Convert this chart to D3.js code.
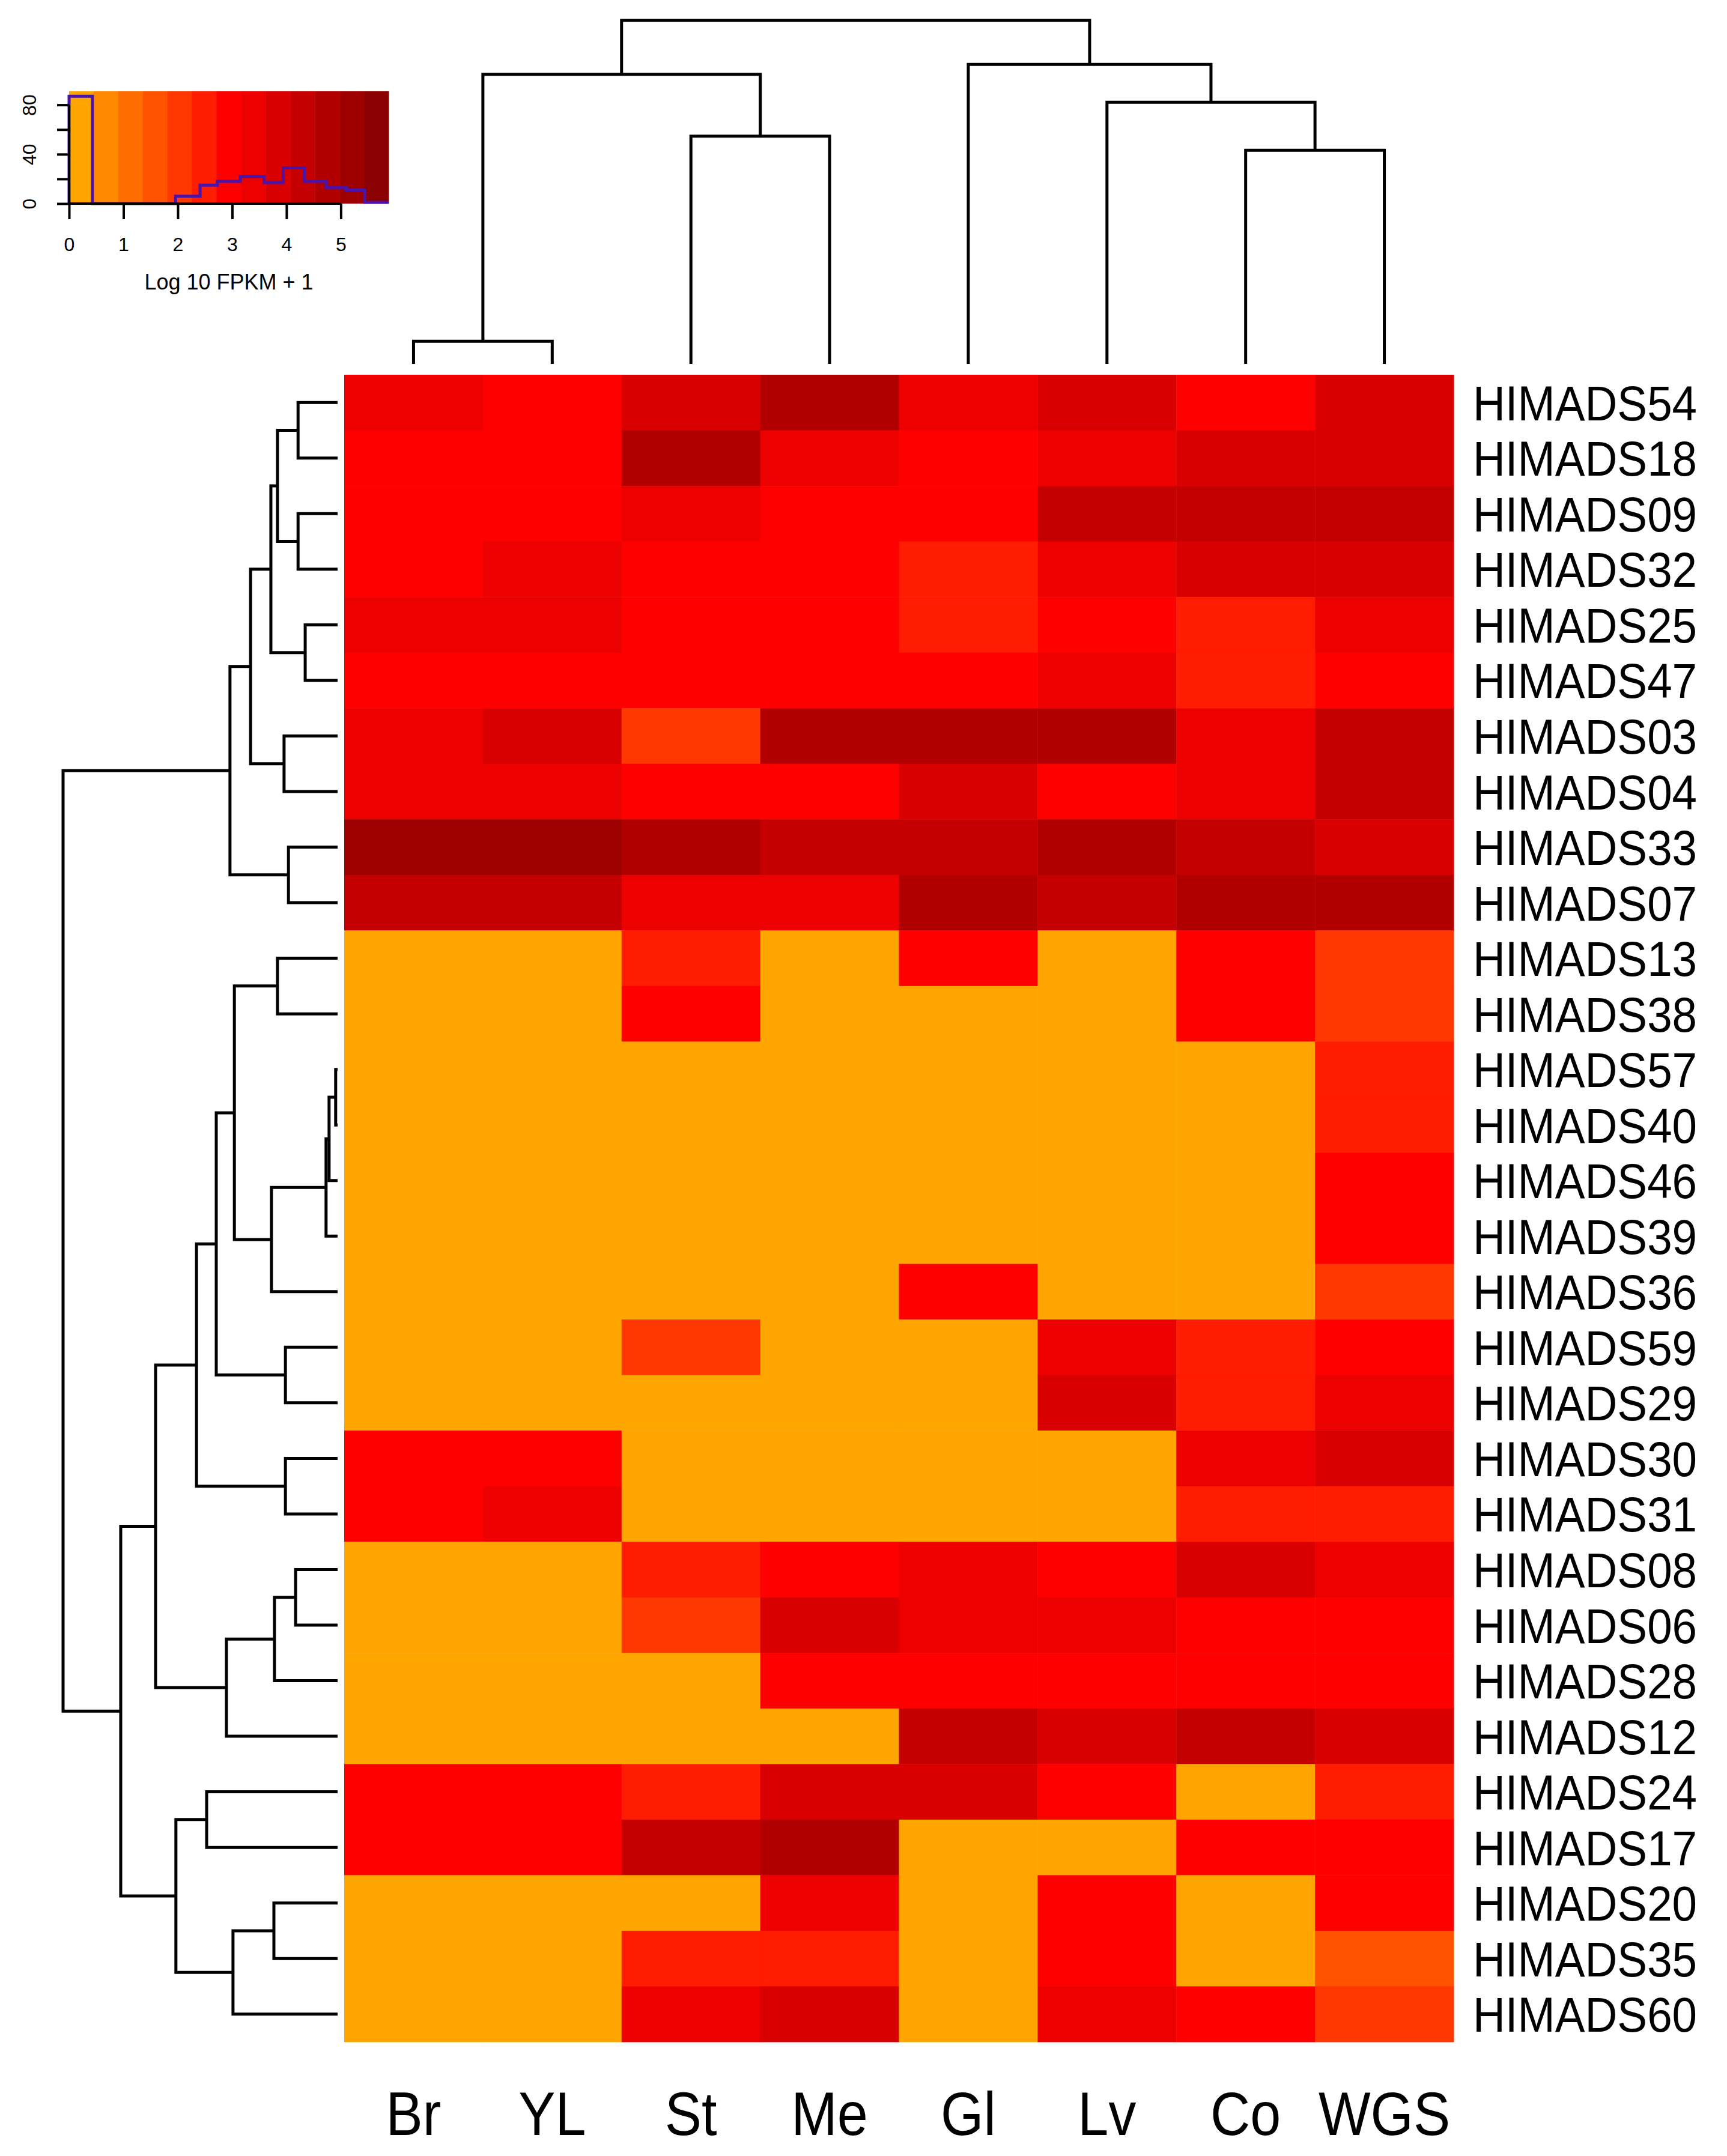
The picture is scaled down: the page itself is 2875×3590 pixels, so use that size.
<!DOCTYPE html>
<html>
<head>
<meta charset="utf-8">
<script src="https://cdn.jsdelivr.net/npm/d3@7"></script>
<style>
  body { margin: 0; background: #fff; }
  text { font-family: "Liberation Sans", Arial, sans-serif; fill: #000; }
</style>
</head>
<body>
<svg id="chart" width="2875" height="3590"></svg>
<script>
// samples (columns) and genes (rows), in dendrogram order
const samples = ["Br", "YL", "St", "Me", "Gl", "Lv", "Co", "WGS"];
const genes = ["HIMADS54", "HIMADS18", "HIMADS09", "HIMADS32", "HIMADS25", "HIMADS47",
    "HIMADS03", "HIMADS04", "HIMADS33", "HIMADS07", "HIMADS13", "HIMADS38", "HIMADS57",
    "HIMADS40", "HIMADS46", "HIMADS39", "HIMADS36", "HIMADS59", "HIMADS29", "HIMADS30",
    "HIMADS31", "HIMADS08", "HIMADS06", "HIMADS28", "HIMADS12", "HIMADS24", "HIMADS17",
    "HIMADS20", "HIMADS35", "HIMADS60"];

// log10 FPKM + 1, one row per gene, columns as in samples
const expression = [
    [3.5, 3.0, 3.9, 4.85, 3.5, 3.85, 3.0, 3.9],
    [3.0, 3.0, 4.85, 3.45, 3.0, 3.3, 3.85, 3.85],
    [3.0, 3.0, 3.45, 3.0, 3.0, 4.35, 4.35, 4.35],
    [3.0, 3.45, 3.0, 3.0, 2.65, 3.45, 3.85, 3.85],
    [3.45, 3.45, 3.0, 3.0, 2.65, 3.0, 2.65, 3.45],
    [3.0, 3.0, 3.0, 3.0, 2.95, 3.45, 2.65, 2.85],
    [3.45, 3.85, 2.05, 4.85, 4.85, 4.85, 3.45, 4.35],
    [3.45, 3.45, 3.0, 3.0, 3.9, 3.0, 3.45, 4.35],
    [5.35, 5.35, 4.85, 4.35, 4.35, 4.85, 4.35, 3.9],
    [4.45, 4.45, 3.45, 3.45, 4.85, 4.35, 4.85, 4.85],
    [0, 0, 2.65, 0, 3.0, 0, 3.0, 2.05],
    [0, 0, 3.0, 0, 0, 0, 3.0, 2.05],
    [0, 0, 0, 0, 0, 0, 0, 2.65],
    [0, 0, 0, 0, 0, 0, 0, 2.65],
    [0, 0, 0, 0, 0, 0, 0, 3.0],
    [0, 0, 0, 0, 0, 0, 0, 3.0],
    [0, 0, 0, 0, 3.0, 0, 0, 2.05],
    [0, 0, 2.05, 0, 0, 3.2, 2.65, 3.0],
    [0, 0, 0, 0, 0, 3.9, 2.65, 3.45],
    [3.0, 3.0, 0, 0, 0, 0, 3.45, 3.9],
    [3.0, 3.45, 0, 0, 0, 0, 2.65, 2.65],
    [0, 0, 2.65, 3.0, 3.45, 3.0, 3.9, 3.45],
    [0, 0, 2.05, 3.9, 3.45, 3.45, 3.0, 3.0],
    [0, 0, 0, 3.0, 3.0, 3.0, 3.0, 3.0],
    [0, 0, 0, 0, 4.35, 3.9, 4.35, 3.9],
    [3.0, 3.0, 2.65, 3.9, 3.8, 3.0, 0, 2.65],
    [3.0, 3.0, 4.35, 4.85, 0, 0, 3.0, 3.0],
    [0, 0, 0, 3.45, 0, 3.0, 0, 3.0],
    [0, 0, 2.65, 2.65, 0, 3.0, 0, 1.75],
    [0, 0, 3.45, 3.9, 0, 3.45, 3.0, 2.05]
];

// cluster trees: h = merge height, c = children (leaf = name)
const colTree = {h: 10, c: [
    {h: 8.43, c: [{h: 0.66, c: ["Br", "YL"]}, {h: 6.63, c: ["St", "Me"]}]},
    {h: 8.72, c: ["Gl", {h: 7.62, c: ["Lv", {h: 6.22, c: ["Co", "WGS"]}]}]}
]};

const rowTree = {h: 10, c: [
    {h: 3.92, c: [
        {h: 3.17, c: [
            {h: 2.43, c: [
                {h: 2.19, c: [{h: 1.44, c: ["HIMADS54", "HIMADS18"]}, {h: 1.44, c: ["HIMADS09", "HIMADS32"]}]},
                {h: 1.18, c: ["HIMADS25", "HIMADS47"]}]},
            {h: 1.95, c: ["HIMADS03", "HIMADS04"]}]},
        {h: 1.79, c: ["HIMADS33", "HIMADS07"]}]},
    {h: 7.90, c: [
        {h: 6.63, c: [
            {h: 5.14, c: [
                {h: 4.42, c: [
                    {h: 3.76, c: [
                        {h: 2.19, c: ["HIMADS13", "HIMADS38"]},
                        {h: 2.41, c: [
                            {h: 0.42, c: [{h: 0.31, c: [{h: 0.07, c: ["HIMADS57", "HIMADS40"]}, "HIMADS46"]}, "HIMADS39"]},
                            "HIMADS36"]}]},
                    {h: 1.90, c: ["HIMADS59", "HIMADS29"]}]},
                {h: 1.90, c: ["HIMADS30", "HIMADS31"]}]},
            {h: 4.05, c: [{h: 2.30, c: [{h: 1.53, c: ["HIMADS08", "HIMADS06"]}, "HIMADS28"]}, "HIMADS12"]}]},
        {h: 5.89, c: [
            {h: 4.77, c: ["HIMADS24", "HIMADS17"]},
            {h: 3.81, c: [{h: 2.32, c: ["HIMADS20", "HIMADS35"]}, "HIMADS60"]}]}]}
]};

// colour key
const paletteStops = ["orange", "red", "darkred"];
const nColours = 13;
const valueMax = 5.88;
const keyTicks = [0, 1, 2, 3, 4, 5];
const countTicks = [0, 20, 40, 60, 80];
const countLabels = [0, 40, 80];
const histBreaks = [0, 0.43, 1.96, 2.41, 2.73, 3.15, 3.59, 3.94, 4.33, 4.73, 5.10, 5.44, 5.88];
const histCounts = [87, 0, 6, 15, 18, 22, 17, 29, 18, 13, 11, 1];

const svg = d3.select("#chart");

const palette = d3.quantize(d3.piecewise(d3.interpolateRgb, paletteStops), nColours);
const colour = d3.scaleQuantize().domain([0, valueMax]).range(palette);

// heatmap
const x = d3.scaleBand().domain(samples).range([573, 2420]);
const y = d3.scaleBand().domain(genes).range([624, 3400]);

const cells = [];
expression.forEach((row, i) => row.forEach((v, j) => cells.push({gene: genes[i], sample: samples[j], v: v})));

svg.append("g").selectAll("rect")
    .data(cells)
    .join("rect")
    .attr("x", d => x(d.sample))
    .attr("y", d => y(d.gene))
    .attr("width", x.bandwidth() + 0.5)
    .attr("height", y.bandwidth() + 0.5)
    .attr("fill", d => colour(d.v));

// labels are a little narrow in the original, squeeze them horizontally
svg.append("g").selectAll("text")
    .data(genes)
    .join("text")
    .attr("transform", d => `translate(2452,${y(d) + y.bandwidth() / 2}) scale(0.91,1)`)
    .attr("dy", "0.36em")
    .attr("font-size", 82)
    .text(d => d);

svg.append("g").selectAll("text")
    .data(samples)
    .join("text")
    .attr("transform", d => `translate(${x(d) + x.bandwidth() / 2},3555) scale(0.9,1)`)
    .attr("text-anchor", "middle")
    .attr("font-size", 102)
    .text(d => d);

// dendrograms: pos = leaf band centre / mean of children
function layout(node, leafPos) {
    if (typeof node === "string") return {pos: leafPos(node), h: 0, kids: []};
    const kids = node.c.map(k => layout(k, leafPos));
    return {pos: d3.mean(kids, k => k.pos), h: node.h, kids: kids};
}

function links(n, out) {
    if (n.kids.length) {
        out.push(n);
        n.kids.forEach(k => links(k, out));
    }
    return out;
}

const colH = d3.scaleLinear().domain([0, 10]).range([606, 34]);
const colRoot = layout(colTree, s => x(s) + x.bandwidth() / 2);
svg.append("g").selectAll("path")
    .data(links(colRoot, []))
    .join("path")
    .attr("fill", "none")
    .attr("stroke", "#000")
    .attr("stroke-width", 5)
    .attr("d", n => {
        const [a, b] = n.kids;
        return `M${a.pos},${colH(a.h)}V${colH(n.h)}H${b.pos}V${colH(b.h)}`;
    });

const rowH = d3.scaleLinear().domain([0, 10]).range([562, 105]);
const rowRoot = layout(rowTree, g => y(g) + y.bandwidth() / 2);
svg.append("g").selectAll("path")
    .data(links(rowRoot, []))
    .join("path")
    .attr("fill", "none")
    .attr("stroke", "#000")
    .attr("stroke-width", 5)
    .attr("d", n => {
        const [a, b] = n.kids;
        return `M${rowH(a.h)},${a.pos}H${rowH(n.h)}V${b.pos}H${rowH(b.h)}`;
    });

// colour key with histogram
const kx = d3.scaleLinear().domain([0, valueMax]).range([115, 647]);
const ky = d3.scaleLinear().domain([0, 91]).range([339, 152]);
const key = svg.append("g");

key.selectAll("rect")
    .data(palette)
    .join("rect")
    .attr("x", c => kx(colour.invertExtent(c)[0]))
    .attr("width", c => kx(colour.invertExtent(c)[1]) - kx(colour.invertExtent(c)[0]) + 0.5)
    .attr("y", ky(91))
    .attr("height", ky(0) - ky(91))
    .attr("fill", c => c);

const histPoints = [[0, 0]].concat(histCounts.map((n, i) => [histBreaks[i], n]),
    [[histBreaks[histBreaks.length - 1], histCounts[histCounts.length - 1]]]);
key.append("path")
    .datum(histPoints)
    .attr("fill", "none")
    .attr("stroke", "#4a14a8")
    .attr("stroke-width", 5)
    .attr("d", d3.line().x(d => kx(d[0])).y(d => ky(d[1])).curve(d3.curveStepAfter));

const xAxis = key.append("g")
    .attr("transform", `translate(0,${ky(0)})`)
    .call(d3.axisBottom(kx).tickValues(keyTicks).tickFormat(d3.format("d")).tickSize(26).tickPadding(30));
xAxis.select(".domain").attr("d", `M${kx(0)},0H${kx(5)}`).attr("stroke-width", 4);
xAxis.selectAll(".tick line").attr("stroke-width", 4);
xAxis.selectAll("text").attr("font-size", 32).attr("font-family", null);

const yAxis = key.append("g")
    .attr("transform", `translate(${kx(0)},0)`)
    .call(d3.axisLeft(ky).tickValues(countTicks).tickSize(20)
        .tickFormat(d => countLabels.includes(d) ? d : ""));
yAxis.select(".domain").attr("d", `M0,${ky(0)}V${ky(80)}`).attr("stroke-width", 4);
yAxis.selectAll(".tick line").attr("stroke-width", 4);
yAxis.selectAll("text")
    .attr("font-size", 32)
    .attr("font-family", null)
    .attr("x", 0)
    .attr("dy", 0)
    .attr("text-anchor", "middle")
    .attr("transform", "translate(-55,0) rotate(-90)");

key.append("text")
    .attr("x", (kx(0) + kx(valueMax)) / 2)
    .attr("y", 482)
    .attr("text-anchor", "middle")
    .attr("font-size", 36)
    .text("Log 10 FPKM + 1");
</script>
</body>
</html>
